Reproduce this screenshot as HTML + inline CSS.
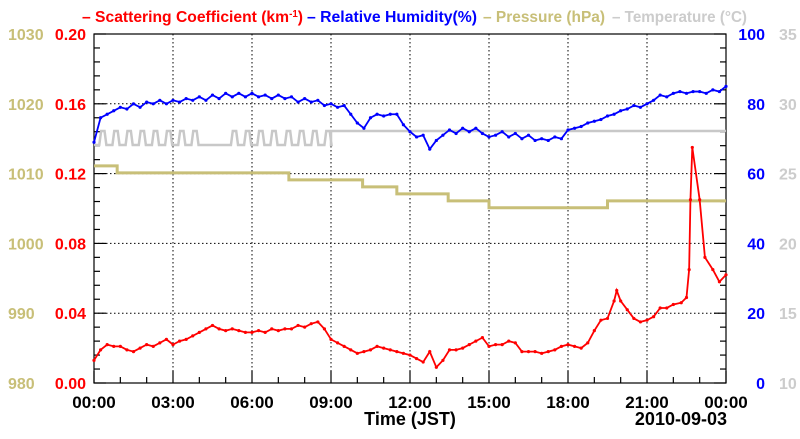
<!DOCTYPE html>
<html><head><meta charset="utf-8"><style>
body{margin:0;background:#fff;width:800px;height:434px;overflow:hidden;font-family:"Liberation Sans",sans-serif}
svg text{font-family:"Liberation Sans",sans-serif;font-weight:bold}
</style></head><body>
<svg id="c" width="800" height="434">
<g>
<text x="82" y="22" font-size="16" fill="#f00" textLength="221" lengthAdjust="spacingAndGlyphs">– Scattering Coefficient (km<tspan dy="-5" font-size="10">-1</tspan><tspan dy="5">)</tspan></text>
<text x="307" y="22" font-size="16" fill="#00f" textLength="170" lengthAdjust="spacingAndGlyphs">– Relative Humidity(%)</text>
<text x="483" y="22" font-size="16" fill="#c8bf78" textLength="122" lengthAdjust="spacingAndGlyphs">– Pressure (hPa)</text>
<text x="612" y="22" font-size="16" fill="#cccccc" textLength="135" lengthAdjust="spacingAndGlyphs">– Temperature (°C)</text>
</g>
<text x="410" y="425" font-size="18" text-anchor="middle">Time (JST)</text>
<text x="727" y="425" font-size="18" text-anchor="end">2010-09-03</text>
</svg>
<script>
const scatT=[0,0.25,0.5,0.75,1,1.25,1.5,1.75,2,2.25,2.5,2.75,3,3.25,3.5,3.75,4,4.25,4.5,4.75,5,5.25,5.5,5.75,6,6.25,6.5,6.75,7,7.25,7.5,7.75,8,8.25,8.5,8.75,9,9.25,9.5,9.75,10,10.25,10.5,10.75,11,11.25,11.5,11.75,12,12.25,12.5,12.75,13,13.25,13.5,13.75,14,14.25,14.5,14.75,15,15.25,15.5,15.75,16,16.25,16.5,16.75,17,17.25,17.5,17.75,18,18.25,18.5,18.75,19,19.25,19.5,19.75,19.85,20,20.25,20.5,20.75,21,21.25,21.5,21.75,22,22.3,22.5,22.6,22.65,22.72,23,23.2,23.5,23.75,24];
const scatV=[0.013,0.019,0.022,0.021, 0.021,0.019,0.018,0.020, 0.022,0.021,0.023,0.025, 0.022,0.024,0.025,0.027, 0.029,0.031,0.033,0.031, 0.030,0.031,0.030,0.029, 0.029,0.030,0.029,0.031, 0.030,0.031,0.031,0.033, 0.032,0.034,0.035,0.031, 0.025,0.023,0.021,0.019, 0.017,0.018,0.019,0.021, 0.020,0.019,0.018,0.017, 0.016,0.014,0.012,0.018, 0.009,0.013,0.019,0.019, 0.020,0.022,0.024,0.026, 0.021,0.022,0.022,0.024, 0.023,0.018,0.018,0.018, 0.017,0.018,0.019,0.021, 0.022,0.021,0.020,0.023, 0.030,0.036,0.037,0.047, 0.053,0.047,0.042,0.037,0.035, 0.036,0.038,0.043,0.043, 0.045,0.046,0.049,0.065,0.105,0.135, 0.105,0.072,0.065,0.058,0.062];
const rhT=[0,0.25,0.5,0.75,1,1.25,1.5,1.75,2,2.25,2.5,2.75,3,3.25,3.5,3.75,4,4.25,4.5,4.75,5,5.25,5.5,5.75,6,6.25,6.5,6.75,7,7.25,7.5,7.75,8,8.25,8.5,8.75,9,9.25,9.5,9.75,10,10.25,10.5,10.75,11,11.25,11.5,11.75,12,12.25,12.5,12.75,13,13.25,13.5,13.75,14,14.25,14.5,14.75,15,15.25,15.5,15.75,16,16.25,16.5,16.75,17,17.25,17.5,17.75,18,18.25,18.5,18.75,19,19.25,19.5,19.75,20,20.25,20.5,20.75,21,21.25,21.5,21.75,22,22.25,22.5,22.75,23,23.25,23.5,23.75,24];
const rhV=[69,76,77,78,79,78.5,80,79,80.5,80,81,80,81,80.5,81.5,81,82,81,82.5,81.5,83,82,83,82,83,82,82.5,81.5,82.5,81.5,82,80.5,81.5,80.5,81,79.5,80,79,79.5,77,74.5,73,76,77,76.5,77,77,74,72,70.5,71,67,69.5,71,72.5,71.5,73,72,73,71.5,70.5,71,72,70.5,71.5,70,71,69.5,70,69.5,70.5,70,72.5,73,73.5,74.5,75,75.5,76.5,77,78,78.5,79.5,79,80,81,82.5,82,83,83.5,83,83.5,83.5,83,84,83.5,85];
const presT=[0,0.88,7.4,10.2,11.5,13.45,15.0,19.5,24];
const presV=[1011.1,1010.1,1009.1,1008.1,1007.1,1006.1,1005.1,1006.1,1006.1];
const tempPulseStart=[0.2,0.7,1.2,1.7,2.2,2.7,3.2,3.7,5.2,5.7,6.2,6.7,7.25,7.75,8.25,8.75];
const tempLow=[27.05], tempHigh=[28.05];
const xTicks=["00:00","03:00","06:00","09:00","12:00","15:00","18:00","21:00","00:00"];
const scatTicks=["0.00","0.04","0.08","0.12","0.16","0.20"];
const rhTicks=["0","20","40","60","80","100"];
const presTicks=["980","990","1000","1010","1020","1030"];
const tempTicks=["10","15","20","25","30","35"];

const L=94,R=726,T=34,B=383;
const X=h=>L+(R-L)*h/24;
const Ys=v=>B-(B-T)*v/0.2;
const Yr=v=>B-(B-T)*v/100;
const Yp=v=>B-(B-T)*(v-980)/50;
const Yt=v=>B-(B-T)*(v-10)/25;
const svg=document.getElementById('c');
const NS='http://www.w3.org/2000/svg';
function mk(tag,attrs,parent){const e=document.createElementNS(NS,tag);for(const k in attrs)e.setAttribute(k,attrs[k]);(parent||svg).appendChild(e);return e;}

const grid=mk('g',{});


for(let i=1;i<8;i++){const x=X(i*3);mk('line',{x1:x,x2:x,y1:T,y2:B,stroke:'#000','stroke-width':1,'stroke-dasharray':'1.5,2.5'},grid);}
for(let i=1;i<5;i++){const y=Ys(i*0.04);mk('line',{x1:L,x2:R,y1:y,y2:y,stroke:'#000','stroke-width':1,'stroke-dasharray':'1.5,2.5'},grid);}

const ax=mk('g',{stroke:'#000','stroke-width':1.2});


mk('rect',{x:L,y:T,width:R-L,height:B-T,fill:'none'},ax);
for(let h=0;h<=24;h++){const x=X(h);const len=h%3==0?12:6;mk('line',{x1:x,x2:x,y1:B,y2:B-len},ax);}
for(let i=0;i<=25;i++){const y=B-(B-T)*i/25;const len=i%5==0?12:6;mk('line',{x1:L,x2:L+len,y1:y,y2:y},ax);mk('line',{x1:R,x2:R-len,y1:y,y2:y},ax);}

function labels(arr,xf,yf,anchor,color,name,size,weight){arr.forEach((s,i)=>{const t=mk('text',{x:xf(i),y:yf(i),'text-anchor':anchor,fill:color,'font-size':size});if(weight)t.setAttribute('font-weight',weight);t.textContent=s;

});}
labels(xTicks,i=>X(i*3),i=>408,'middle','#000','x',17);
labels(scatTicks,i=>86,i=>Ys(i*0.04)+6,'end','#f00','scat-y',16);
labels(rhTicks,i=>765,i=>Yr(i*20)+6,'end','#00f','rh-y',16);
labels(presTicks,i=>8,i=>Yp(980+i*10)+6,'start','#c8bf78','pres-y',16,'normal');
labels(tempTicks,i=>779,i=>Yt(10+i*5)+6,'start','#cccccc','temp-y',16,'normal');

let pd='';presT.forEach((t,i)=>{const x=X(t),y=Yp(presV[i]);pd+=(i?`L${x},${Yp(presV[i-1])}L${x},${y}`:`M${x},${y}`);});
const pp=mk('path',{d:pd,fill:'none',stroke:'#c8bf78','stroke-width':3});



let td=`M${X(0)},${Yt(tempLow[0])}`;
tempPulseStart.forEach(s=>{td+=`L${X(s)},${Yt(tempLow[0])}L${X(s+0.07)},${Yt(tempHigh[0])}L${X(s+0.2)},${Yt(tempHigh[0])}L${X(s+0.27)},${Yt(tempLow[0])}`;});
td+=`L${X(9)},${Yt(tempLow[0])}L${X(9)},${Yt(tempHigh[0])}L${X(24)},${Yt(tempHigh[0])}`;
const tp=mk('path',{d:td,fill:'none',stroke:'#c8c8c8','stroke-width':2.5});



function series(ts,vs,yf,color,name){const g=mk('g',{});


mk('path',{d:ts.map((t,i)=>(i?'L':'M')+X(t)+','+yf(vs[i])).join(''),fill:'none',stroke:color,'stroke-width':1.8},g);
ts.forEach((t,i)=>{const c=mk('circle',{cx:X(t),cy:yf(vs[i]),r:1.6,fill:color},g);

});}
series(rhT,rhV,Yr,'#00f','humidity-series');
series(scatT,scatV,Ys,'#f00','scattering-series');
</script>
</body></html>
